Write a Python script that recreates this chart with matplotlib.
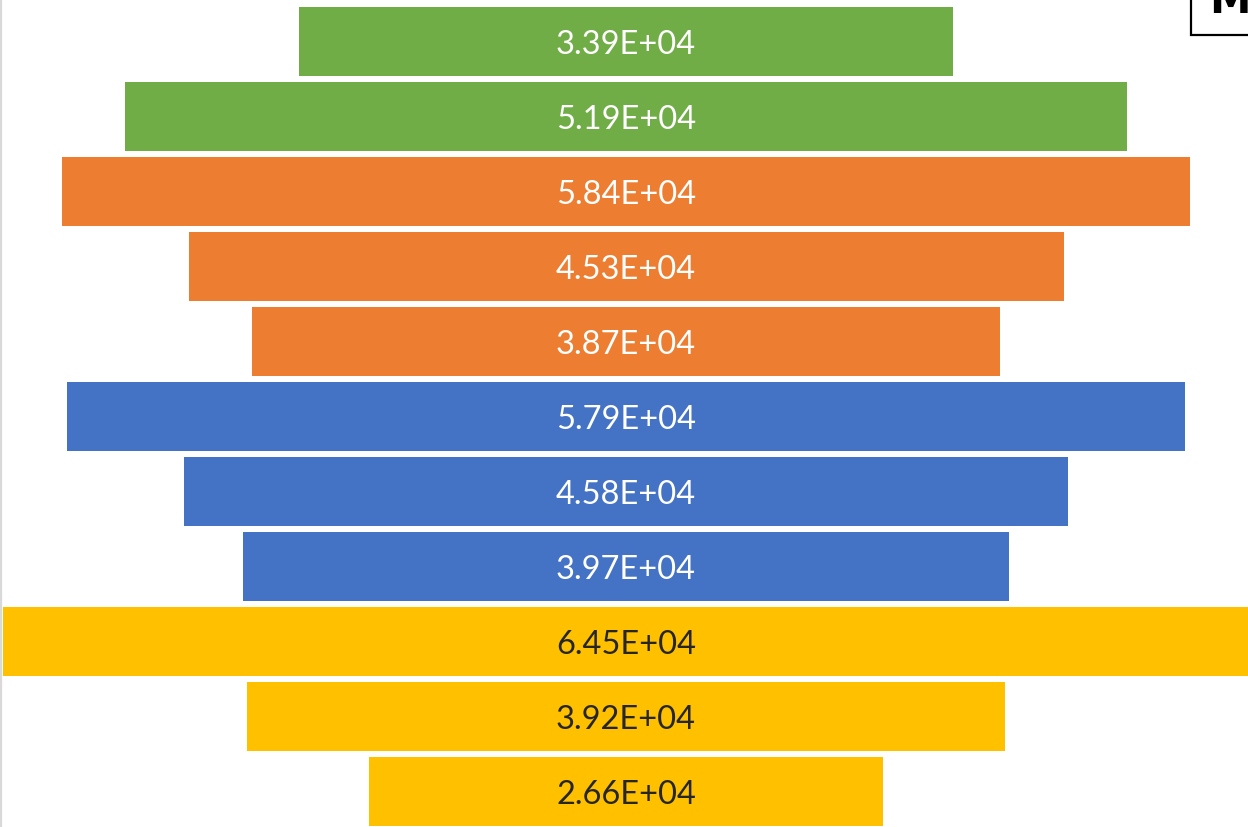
import matplotlib
matplotlib.use("Agg")
import matplotlib.pyplot as plt
from matplotlib.patches import Rectangle
from matplotlib.lines import Line2D

# Funnel segments, top to bottom
values = [33900, 51900, 58400, 45300, 38700, 57900, 45800, 39700, 64500, 39200, 26600]
groups = ["green", "green", "orange", "orange", "orange", "blue", "blue", "blue", "yellow", "yellow", "yellow"]
labels = ["3.39E+04", "5.19E+04", "5.84E+04", "4.53E+04", "3.87E+04", "5.79E+04",
          "4.58E+04", "3.97E+04", "6.45E+04", "3.92E+04", "2.66E+04"]

palette = {"green": "#70AD47", "orange": "#ED7D31", "blue": "#4472C4", "yellow": "#FFC000"}
text_color = {"green": "white", "orange": "white", "blue": "white", "yellow": "#262626"}

W, H = 1248, 828
fig = plt.figure(figsize=(W / 100, H / 100), dpi=100)
ax = fig.add_axes([0, 0, 1, 1])

ypos = list(range(len(values)))
ax.barh(ypos, values, left=[-v / 2 for v in values], height=0.92,
        color=[palette[g] for g in groups], edgecolor="none")

for y, lab, g in zip(ypos, labels, groups):
    ax.text(0, y + 0.03, lab, ha="center", va="center", fontsize=23.5,
            family="Lato", color=text_color[g])

ax.set_xlim(-32410, 32200)
ax.set_ylim(10.475, -0.567)
ax.axis("off")

# thin gray axis line on the left edge
fig.add_artist(Line2D([1.2 / W, 1.2 / W], [0, 1], transform=fig.transFigure,
                      color="#D9D9D9", lw=1.6))

# title box peeking in at the top right
fig.add_artist(Rectangle((1191 / W, 1 - 36 / H), 200 / W, 100 / H,
                         transform=fig.transFigure, facecolor="white",
                         edgecolor="black", lw=1.6))
fig.text(1209 / W, 1 - 13 / H, "M", ha="left", va="baseline", fontsize=30,
         fontweight="bold", family="DejaVu Sans", color="black")

fig.savefig("out.png", dpi=100)
